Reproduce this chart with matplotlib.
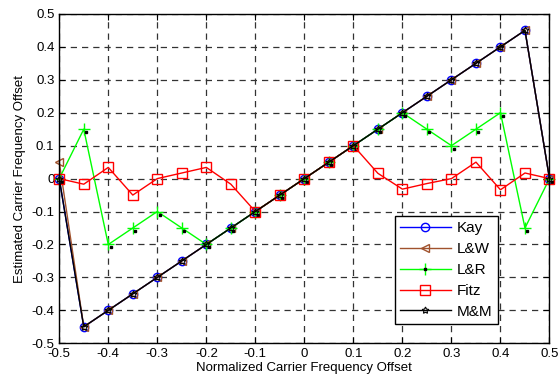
import numpy as np
import matplotlib
matplotlib.use('Agg')
import matplotlib.pyplot as plt
import matplotlib.transforms as mtransforms
from matplotlib.legend_handler import HandlerTuple
from matplotlib.ticker import FuncFormatter

plt.rcParams['font.family'] = ['Liberation Sans', 'DejaVu Sans']

# ----------------------------
# Data
# ----------------------------
x = [-0.5, -0.45, -0.4, -0.35, -0.3, -0.25, -0.2, -0.15, -0.1, -0.05, 0.0,
     0.05, 0.1, 0.15, 0.2, 0.25, 0.3, 0.35, 0.4, 0.45, 0.5]

kay = [0.0, -0.45, -0.4, -0.35, -0.3, -0.25, -0.2, -0.15, -0.1, -0.05, 0.0,
       0.05, 0.1, 0.15, 0.2, 0.25, 0.3, 0.35, 0.4, 0.45, 0.0]
lw = [0.05, -0.45, -0.4, -0.35, -0.3, -0.25, -0.2, -0.15, -0.1, -0.05, 0.0,
      0.05, 0.1, 0.15, 0.2, 0.25, 0.3, 0.35, 0.4, 0.45, 0.0]
lr = [0.0, 0.15, -0.2, -0.15, -0.1, -0.15, -0.2, -0.15, -0.1, -0.05, 0.0,
      0.05, 0.1, 0.15, 0.2, 0.15, 0.1, 0.15, 0.2, -0.15, 0.0]
fitz = [0.0, -0.017, 0.034, -0.05, 0.0, 0.017, 0.034, -0.017, -0.1, -0.05, 0.0,
        0.05, 0.1, 0.016, -0.032, -0.015, 0.0, 0.05, -0.034, 0.017, 0.0]
mm = [0.0, -0.45, -0.4, -0.35, -0.3, -0.25, -0.2, -0.15, -0.1, -0.05, 0.0,
      0.05, 0.1, 0.15, 0.2, 0.25, 0.3, 0.35, 0.4, 0.45, 0.0]

ticks = [-0.5, -0.4, -0.3, -0.2, -0.1, 0.0, 0.1, 0.2, 0.3, 0.4, 0.5]

COL_KAY = '#0000FF'
COL_LW = '#A0522D'
COL_LR = '#00FF00'
COL_FITZ = '#FF0000'
COL_MM = '#000000'

fig = plt.figure(figsize=(5.59, 3.87), dpi=100)
ax = fig.add_axes([0.106, 0.113, 0.877, 0.851])

ax.plot(x, kay, '-o', color=COL_KAY, lw=1.0, ms=6, mfc='none', label='Kay',
        clip_on=False)
ax.plot(x, lw, '-<', color=COL_LW, lw=1.0, ms=6, mfc='none', label='L&W',
        clip_on=False)
h_lr, = ax.plot(x, lr, '-+', color=COL_LR, lw=1.0, ms=8, mew=1.0,
                clip_on=False)
# small black dot that comes with the '+' markers in the original
off = mtransforms.ScaledTranslation(2.5 / 100, -3 / 100, fig.dpi_scale_trans)
h_dot, = ax.plot(x, lr, 's', color='black', ms=1.8, ls='none',
                 transform=ax.transData + off, clip_on=False)
ax.plot(x, fitz, '-s', color=COL_FITZ, lw=1.0, ms=7, mfc='none', label='Fitz',
        clip_on=False)
ax.plot(x, mm, '-', color=COL_MM, lw=1.0, marker=(5, 1, 0), ms=5,
        mfc='none', mew=0.8, label='M&M', clip_on=False)

ax.set_xlim(-0.5, 0.5)
ax.set_ylim(-0.5, 0.5)
ax.set_xticks(ticks)
ax.set_yticks(ticks)
fmt = FuncFormatter(lambda v, p: '%g' % round(v, 2))
ax.xaxis.set_major_formatter(fmt)
ax.yaxis.set_major_formatter(fmt)
ax.tick_params(direction='in', top=True, right=True, labelsize=9.5, length=4)
ax.grid(True, color='#333333', ls=(0, (5, 4)), lw=0.9)
ax.set_xlabel('Normalized Carrier Frequency Offset', fontsize=9.5, labelpad=1)
ax.set_ylabel('Estimated Carrier Frequency Offset', fontsize=9.5, labelpad=4)
for s in ax.spines.values():
    s.set_linewidth(1.0)

handles, labels = ax.get_legend_handles_labels()
handles.insert(2, (h_lr, h_dot))
labels.insert(2, 'L&R')
leg = ax.legend(handles, labels, loc='lower right',
                bbox_to_anchor=(0.91, 0.035), fontsize=11,
                handler_map={tuple: HandlerTuple(ndivide=1)},
                fancybox=False, edgecolor='black', framealpha=1,
                handlelength=3.3, labelspacing=0.45, borderpad=0.35,
                handletextpad=0.4)
leg.get_frame().set_linewidth(1.0)

plt.savefig('out.png', dpi=100)
